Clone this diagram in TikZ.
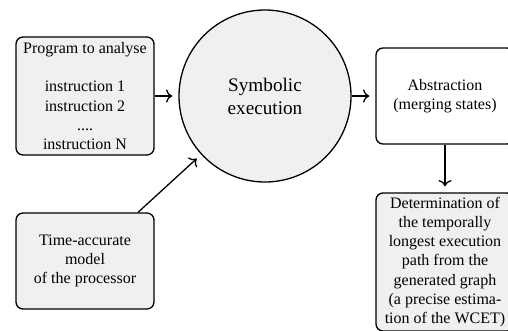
\documentclass[tikz,border=0pt]{standalone}
\usepackage{fontspec}
\setmainfont{Liberation Serif}
\usetikzlibrary{arrows.meta}
\begin{document}
\begin{tikzpicture}[x=1pt,y=-1pt,
  every node/.style={font=\fontsize{16}{19.2}\selectfont, align=center, inner sep=0pt, line width=1.3pt},
  boxg/.style={draw, rounded corners=7pt, fill=gray!12, minimum width=138pt},
  boxw/.style={draw, rounded corners=7pt, fill=white, minimum width=138pt},
  circ/.style={draw, circle, fill=gray!12, minimum size=172pt, font=\fontsize{19.2}{23}\selectfont},
  arr/.style={-{To[scale=1.4]}, line width=1.3pt, shorten >=6pt}
]
\useasboundingbox (0,0) rectangle (508,330);
\node[boxg, minimum height=118pt] (prog) at (85,96) {Program to analyse\\[19.2pt]instruction 1\\instruction 2\\....\\instruction N};
\node[circ] (symb) at (265,96) {Symbolic\\execution};
\node[boxw, minimum height=96pt] (abs) at (445,96) {Abstraction\\(merging states)};
\node[boxg, minimum height=96pt] (model) at (85,261) {Time-accurate\\model\\of the processor};
\node[boxg, minimum height=138pt] (det) at (445,262) {Determination of\\the temporally\\longest execution\\path from the\\generated graph\\(a precise estima-\\tion of the WCET)};
\draw[arr] (prog) -- (symb);
\draw[arr] (symb) -- (abs);
\draw[arr] (abs) -- (det);
\draw[arr] (model) -- (symb);
\end{tikzpicture}
\end{document}
